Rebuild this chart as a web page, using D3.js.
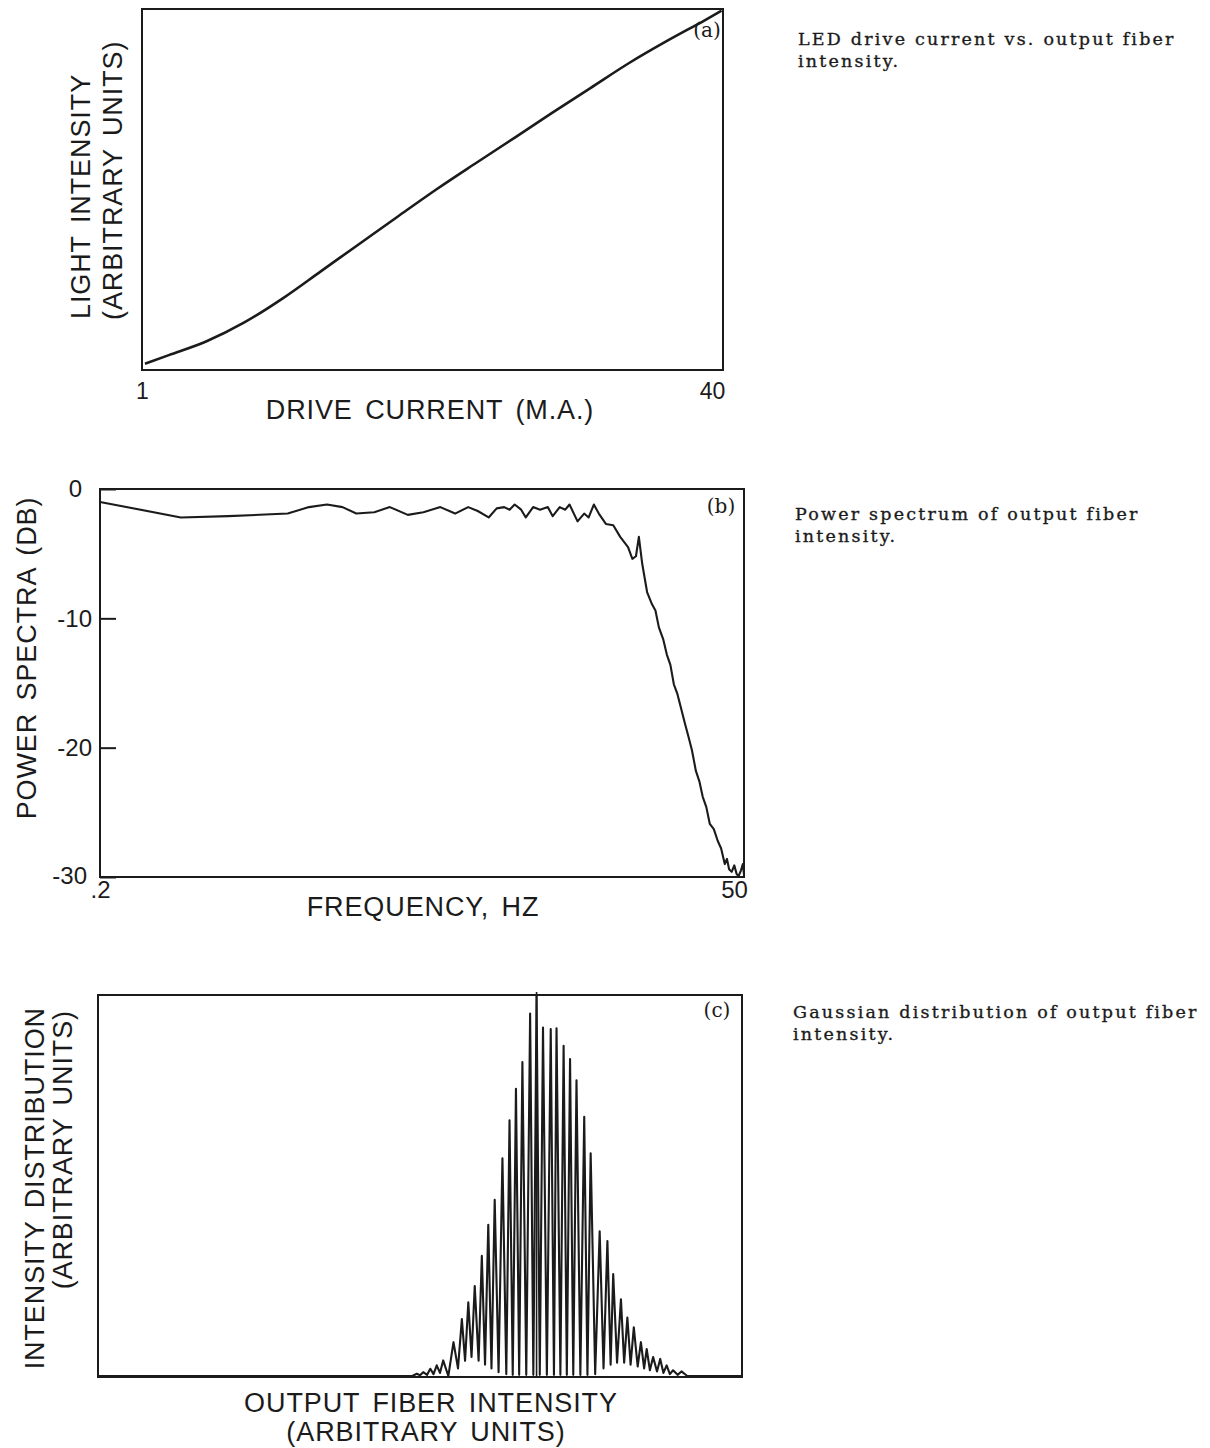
<!DOCTYPE html>
<html>
<head>
<meta charset="utf-8">
<script src="https://cdn.jsdelivr.net/npm/d3@7"></script>
<style>
  body { margin: 0; background: #fff; }
</style>
</head>
<body>
<div id="chart"></div>
<script>
"use strict";

// === DATA ===

// (a) LED drive current (mA) vs light intensity (arbitrary, 0-1)
const driveCurrent = [1.2, 2.8, 5.3, 7.9, 10.5, 13.0, 15.7, 18.2, 20.8, 23.4, 26.0, 28.5, 31.1, 33.7, 36.3, 38.8, 39.9];
const lightIntensity = [0.012, 0.036, 0.074, 0.128, 0.196, 0.270, 0.350, 0.424, 0.500, 0.572, 0.643, 0.712, 0.782, 0.852, 0.915, 0.972, 0.998];
const currentTicks = [1, 40];

// (b) power spectrum, frequency (Hz, log axis) vs dB
const freqHz = [0.2, 0.4, 0.6, 1.0, 1.2, 1.4, 1.6, 1.8, 2.1, 2.4, 2.8, 3.2, 3.7, 4.2, 4.7, 5.1, 5.6, 6.0, 6.4, 6.7,
  7.0, 7.4, 7.7, 8.2, 8.7, 9.3, 9.7, 10.3, 10.8, 11.2, 12.0, 12.7, 13.2, 13.8, 14.4, 15.3, 16.3, 17.3, 18.5, 19.2,
  19.8, 20.3, 20.9, 21.8, 22.7, 23.4, 24.1, 25.0, 25.8, 26.6, 27.4, 28.2, 29.1, 30.1, 31.1, 32.0, 33.1, 34.1, 35.1,
  36.2, 37.3, 38.6, 39.9, 41.1, 42.4, 43.2, 44.0, 45.0, 46.0, 47.0, 47.8, 48.7, 49.5, 50];
const powerDb = [-1.0, -2.2, -2.1, -1.9, -1.4, -1.2, -1.4, -1.9, -1.8, -1.4, -2.0, -1.8, -1.4, -1.9, -1.4, -1.7, -2.2, -1.5, -1.4, -1.6,
  -1.2, -1.6, -2.2, -1.4, -1.6, -1.4, -2.1, -1.4, -1.6, -1.2, -2.5, -1.9, -2.2, -1.2, -1.9, -2.7, -2.8, -3.7, -4.5, -5.4,
  -5.2, -3.7, -5.8, -8.0, -8.9, -9.4, -10.7, -11.6, -12.8, -13.6, -15.1, -15.8, -16.9, -18.1, -19.2, -20.2, -21.8, -22.6, -23.8,
  -24.6, -25.9, -26.3, -27.2, -27.8, -29.0, -28.6, -29.4, -29.6, -29.1, -29.8, -29.9, -29.5, -29.0, -29.8];
const dbTicks = [0, -10, -20, -30];
const freqTicks = [0.2, 50];

// (c) intensity distribution: [output intensity (0-100), relative count (0-1)], peaks and valleys of the comb
const distPoints = [
  [0, 0], [48.8, 0], [49.5, 0.006], [50.0, 0.002], [50.5, 0.010], [51.1, 0.003], [51.6, 0.019], [52.1, 0.005],
  [52.6, 0.028], [53.1, 0.008], [53.6, 0.041], [54.4, 0.0], [55.2, 0.089], [55.9, 0.02], [56.5, 0.150], [57.0, 0.04],
  [57.5, 0.194], [58.0, 0.05], [58.5, 0.237], [59.1, 0.04], [59.6, 0.316], [60.1, 0.03], [60.6, 0.398], [61.1, 0.02],
  [61.6, 0.464], [62.2, 0.01], [62.8, 0.573], [63.4, 0.005], [63.9, 0.673], [64.4, 0.003], [64.9, 0.756], [65.4, 0.003],
  [65.9, 0.826], [66.5, 0.003], [67.1, 0.954], [67.6, 0.003], [68.1, 1.0], [68.6, 0.003], [69.1, 0.917], [69.7, 0.003],
  [70.3, 0.913], [70.8, 0.003], [71.2, 0.915], [71.8, 0.003], [72.3, 0.869], [72.8, 0.003], [73.3, 0.834], [73.8, 0.003],
  [74.3, 0.778], [74.9, 0.003], [75.5, 0.682], [76.0, 0.003], [76.5, 0.586], [77.2, 0.005], [77.9, 0.381], [78.5, 0.02],
  [79.1, 0.355], [79.6, 0.03], [80.0, 0.268], [80.6, 0.035], [81.2, 0.202], [81.7, 0.035], [82.2, 0.154], [82.7, 0.03],
  [83.2, 0.128], [83.8, 0.025], [84.3, 0.089], [84.8, 0.02], [85.2, 0.071], [85.7, 0.015], [86.2, 0.050], [86.8, 0.012],
  [87.3, 0.045], [87.8, 0.008], [88.3, 0.028], [88.8, 0.005], [89.3, 0.015], [90.0, 0.003], [90.6, 0.012], [91.5, 0.0],
  [100, 0]
];
const meanMarker = 68.1;

const captions = [
  ["LED drive current vs. output fiber", "intensity."],
  ["Power spectrum of output fiber", "intensity."],
  ["Gaussian distribution of output fiber", "intensity."]
];

// === SETUP ===
const W = 1210, H = 1448;
const ink = "#1b1b1b";
const sans = "'Liberation Sans', Arial, sans-serif";
const serif = "'DejaVu Serif', serif";

const svg = d3.select("#chart").append("svg")
  .attr("width", W)
  .attr("height", H);

svg.append("rect").attr("width", W).attr("height", H).attr("fill", "#fff");

const boxA = { x0: 142, x1: 723, y0: 9, y1: 370 };
const boxB = { x0: 100, x1: 744, y0: 489, y1: 877 };
const boxC = { x0: 98, x1: 742, y0: 995, y1: 1377 };

function frame(b) {
  svg.append("rect")
    .attr("x", b.x0).attr("y", b.y0)
    .attr("width", b.x1 - b.x0).attr("height", b.y1 - b.y0)
    .attr("fill", "none")
    .attr("stroke", ink)
    .attr("stroke-width", 2);
}

function label(txt, x, y, opts = {}) {
  return svg.append("text")
    .attr("transform", `translate(${x},${y})` + (opts.rotate ? " rotate(-90)" : ""))
    .attr("text-anchor", opts.anchor || "middle")
    .attr("font-family", opts.font || sans)
    .attr("font-size", opts.size || 27)
    .attr("letter-spacing", opts.ls != null ? opts.ls : 0.9)
    .attr("word-spacing", opts.ws != null ? opts.ws : 4)
    .attr("fill", ink)
    .text(txt);
}

function styleAxis(g, size) {
  g.select(".domain").remove();
  g.selectAll("text")
    .attr("font-family", sans)
    .attr("font-size", size)
    .attr("fill", ink);
  g.selectAll("line").attr("stroke", ink).attr("stroke-width", 2);
}

// === PANEL (a) ===
const xA = d3.scaleLinear().domain([1, 40]).range([boxA.x0, boxA.x1]);
const yA = d3.scaleLinear().domain([0, 1]).range([boxA.y1 - 2, boxA.y0 + 1]);

frame(boxA);

svg.append("path")
  .datum(driveCurrent.map((c, i) => [c, lightIntensity[i]]))
  .attr("fill", "none")
  .attr("stroke", ink)
  .attr("stroke-width", 2.6)
  .attr("d", d3.line().x(d => xA(d[0])).y(d => yA(d[1])).curve(d3.curveMonotoneX));

const axA = svg.append("g")
  .attr("transform", `translate(0,${boxA.y1})`)
  .call(d3.axisBottom(xA).tickValues(currentTicks).tickSize(0).tickPadding(13).tickFormat(d => String(d)));
styleAxis(axA, 23);
axA.selectAll(".tick text").filter(d => d === 40).attr("dx", -11);

label("DRIVE CURRENT (M.A.)", 430, 419);
label("LIGHT INTENSITY", 90, 319, { rotate: true, anchor: "start" });
label("(ARBITRARY UNITS)", 122, 320, { rotate: true, anchor: "start" });
label("(a)", 707, 37, { font: serif, size: 20, ls: 0 });

// === PANEL (b) ===
const xB = d3.scaleLog().domain([0.2, 50]).range([boxB.x0, boxB.x1]);
const yB = d3.scaleLinear().domain([-30, 0]).range([boxB.y1, boxB.y0]);

frame(boxB);

const axBy = svg.append("g")
  .attr("transform", `translate(${boxB.x0},0)`)
  .call(d3.axisLeft(yB).tickValues(dbTicks).tickSize(-16).tickPadding(8).tickFormat(d => String(d)));
styleAxis(axBy, 24);
axBy.selectAll(".tick text").filter(d => d === 0).attr("dx", -10);
axBy.selectAll(".tick text").filter(d => d === -30).attr("dy", "0.25em").attr("dx", -5);

const axBx = svg.append("g")
  .attr("transform", `translate(0,${boxB.y1})`)
  .call(d3.axisBottom(xB).tickValues(freqTicks).tickSize(0).tickPadding(4)
    .tickFormat(d => d < 1 ? ".2" : String(d)));
styleAxis(axBx, 24);
axBx.selectAll(".tick text").filter(d => d === 50).attr("dx", -10);

svg.append("path")
  .datum(freqHz.map((f, i) => [f, powerDb[i]]))
  .attr("fill", "none")
  .attr("stroke", ink)
  .attr("stroke-width", 2.1)
  .attr("stroke-linejoin", "round")
  .attr("d", d3.line().x(d => xB(d[0])).y(d => yB(d[1])));

label("FREQUENCY, HZ", 423, 916);
label("POWER SPECTRA (DB)", 36, 658, { rotate: true });
label("(b)", 721, 513, { font: serif, size: 20, ls: 0 });

// === PANEL (c) ===
const xC = d3.scaleLinear().domain([0, 100]).range([boxC.x0, boxC.x1]);
const yC = d3.scaleLinear().domain([0, 1]).range([boxC.y1 - 1, boxC.y0 + 1]);

frame(boxC);

svg.append("path")
  .datum(distPoints)
  .attr("fill", "none")
  .attr("stroke", ink)
  .attr("stroke-width", 2.1)
  .attr("stroke-linejoin", "round")
  .attr("d", d3.line().x(d => xC(d[0])).y(d => yC(d[1])));

svg.append("line")
  .attr("x1", xC(meanMarker)).attr("x2", xC(meanMarker))
  .attr("y1", yC(0)).attr("y2", yC(1) - 4)
  .attr("stroke", ink)
  .attr("stroke-width", 1.6);

label("OUTPUT FIBER INTENSITY", 431, 1412);
label("(ARBITRARY UNITS)", 426, 1441);
label("INTENSITY DISTRIBUTION", 44, 1007, { rotate: true, anchor: "end" });
label("(ARBITRARY UNITS)", 72, 1010, { rotate: true, anchor: "end" });
label("(c)", 717, 1017, { font: serif, size: 20, ls: 0 });

// === CAPTIONS ===
const captionPos = [[798, 45], [795, 520], [793, 1018]];
captions.forEach((lines, i) => {
  const t = svg.append("text")
    .attr("font-family", serif)
    .attr("font-size", 17.5)
    .attr("letter-spacing", 2.2)
    .attr("stroke", ink)
    .attr("stroke-width", 0.35)
    .attr("fill", ink);
  lines.forEach((ln, j) => {
    t.append("tspan")
      .attr("x", captionPos[i][0])
      .attr("y", captionPos[i][1] + j * 22)
      .text(ln);
  });
});
</script>
</body>
</html>
